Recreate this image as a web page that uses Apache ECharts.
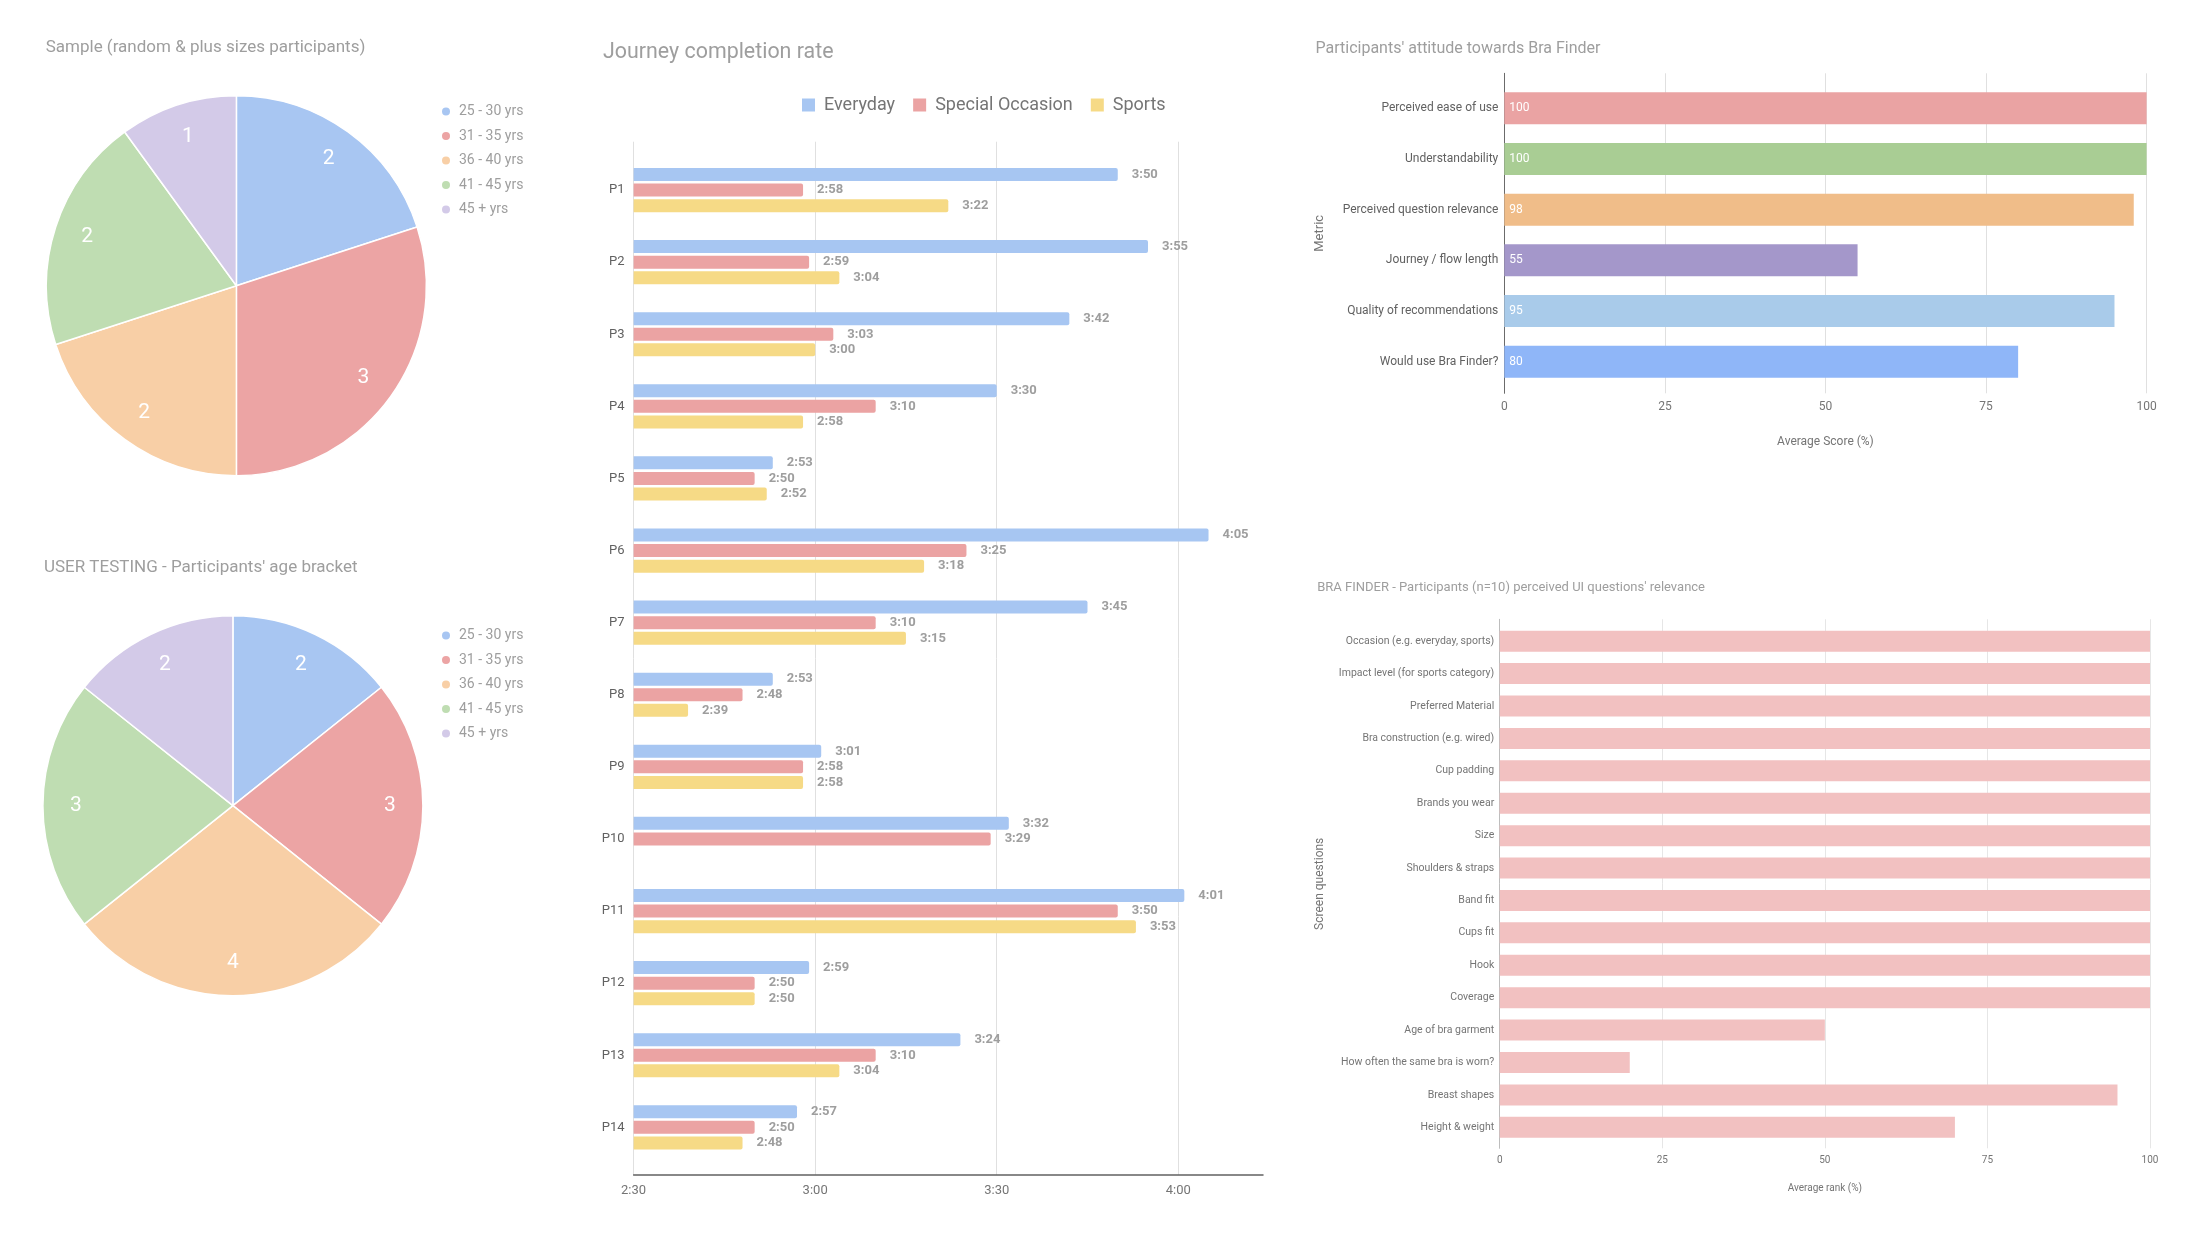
<!DOCTYPE html>
<html><head><meta charset="utf-8">
<script src="https://cdn.jsdelivr.net/npm/echarts@6/dist/echarts.min.js"></script>
<style>
html,body{margin:0;padding:0;background:#fff;}
#chart{width:2200px;height:1238px;}
</style></head><body>
<div id="chart"></div>
<script>
// ---------- DATA ----------
const ageBrackets = ['25 - 30 yrs', '31 - 35 yrs', '36 - 40 yrs', '41 - 45 yrs', '45 + yrs'];
const sampleCounts = [2, 3, 2, 2, 1];
const testingCounts = [2, 3, 4, 3, 2];

const participants = ['P1','P2','P3','P4','P5','P6','P7','P8','P9','P10','P11','P12','P13','P14'];
const journeySeries = ['Everyday', 'Special Occasion', 'Sports'];
const everydayTimes = ['3:50','3:55','3:42','3:30','2:53','4:05','3:45','2:53','3:01','3:32','4:01','2:59','3:24','2:57'];
const specialTimes  = ['2:58','2:59','3:03','3:10','2:50','3:25','3:10','2:48','2:58','3:29','3:50','2:50','3:10','2:50'];
const sportsTimes   = ['3:22','3:04','3:00','2:58','2:52','3:18','3:15','2:39','2:58',null,'3:53','2:50','3:04','2:48'];
const timeTicks = ['2:30', '3:00', '3:30', '4:00'];
const timeAxisMax = '4:14';

const attitudeMetrics = ['Perceived ease of use', 'Understandability', 'Perceived question relevance', 'Journey / flow length', 'Quality of recommendations', 'Would use Bra Finder?'];
const attitudeScores = [100, 100, 98, 55, 95, 80];

const screenQuestions = ['Occasion (e.g. everyday, sports)', 'Impact level (for sports category)', 'Preferred Material', 'Bra construction (e.g. wired)', 'Cup padding', 'Brands you wear', 'Size', 'Shoulders & straps', 'Band fit', 'Cups fit', 'Hook', 'Coverage', 'Age of bra garment', 'How often the same bra is worn?', 'Breast shapes', 'Height & weight'];
const questionRanks = [100, 100, 100, 100, 100, 100, 100, 100, 100, 100, 100, 100, 50, 20, 95, 70];
const percentTicks = [0, 25, 50, 75, 100];

// ---------- STYLE ----------
const FONT = 'Roboto, "Noto Sans", sans-serif';
const pieColors = ['#a8c6f2', '#eca4a4', '#f8cfa6', '#bfddb2', '#d3cae8'];
const journeyColors = ['#a7c6f2', '#eba3a3', '#f6da86'];
const attitudeColors = ['#eaa3a3', '#a9cd94', '#f0bd89', '#a497ca', '#a9cbea', '#8fb6f8'];
const rankColor = '#f2c1c1';

const toSec = t => t == null ? null : (+t.split(':')[0]) * 60 + (+t.split(':')[1]);

function pieSeries(counts, cx, cy, R) {
  return [
    {
      type: 'pie', center: [cx, cy], radius: [0, R], startAngle: 90, clockwise: true,
      data: counts.map((v, i) => ({name: ageBrackets[i], value: v, itemStyle: {color: pieColors[i]}})),
      label: {show: false}, labelLine: {show: false},
      itemStyle: {borderColor: '#fff', borderWidth: 1.5},
      emphasis: {disabled: true}, silent: true
    },
    {
      type: 'pie', center: [cx, cy], radius: [R * 0.62, R], startAngle: 90, clockwise: true,
      data: counts.map((v, i) => ({name: ageBrackets[i], value: v})),
      itemStyle: {color: 'rgba(0,0,0,0)'},
      label: {show: true, position: 'inside', color: '#fff', fontSize: 21, fontFamily: FONT, formatter: '{c}'},
      labelLine: {show: false}, emphasis: {disabled: true}, silent: true, legendHoverLink: false
    }
  ];
}
function pieLegend(top) {
  return {
    orient: 'vertical', left: 440, top: top, icon: 'circle', itemWidth: 10, itemHeight: 10, itemGap: 10.5,
    selectedMode: false, padding: 0,
    data: ageBrackets.map((n, i) => ({name: n, itemStyle: {color: pieColors[i]}})),
    textStyle: {color: '#9e9e9e', fontSize: 14, fontFamily: FONT, padding: [0, 0, 0, 3]}
  };
}
const titleStyle = (size) => ({color: '#9e9e9e', fontSize: size, fontWeight: 'normal', fontFamily: FONT});

const tMin = toSec(timeTicks[0]);
const tInt = toSec(timeTicks[1]) - toSec(timeTicks[0]);
const tMax = toSec(timeAxisMax);
const journeyTimes = [everydayTimes, specialTimes, sportsTimes];
const pInt = percentTicks[1] - percentTicks[0];
const pMin = percentTicks[0], pMax = percentTicks[percentTicks.length - 1];

const chart = echarts.init(document.getElementById('chart'));
chart.setOption({
  animation: false,
  title: [
    {text: 'Sample (random & plus sizes participants)', left: 45.7, top: 39.5, padding: 0, textStyle: titleStyle(17)},
    {text: "USER TESTING - Participants' age bracket", left: 43.9, top: 559.5, padding: 0, textStyle: titleStyle(17)},
    {text: 'Journey completion rate', left: 603, top: 42, padding: 0, textStyle: titleStyle(21.4)},
    {text: "Participants' attitude towards Bra Finder", left: 1315.5, top: 40.5, padding: 0, textStyle: titleStyle(16)},
    {text: "BRA FINDER - Participants (n=10) perceived UI questions' relevance", left: 1317.2, top: 581.5, padding: 0, textStyle: titleStyle(13)}
  ],
  legend: [
    pieLegend(104.5),
    pieLegend(628.5),
    {
      data: journeySeries, left: 802, top: 96, padding: 0, icon: 'rect', itemWidth: 13, itemHeight: 13, itemGap: 18,
      selectedMode: false,
      textStyle: {color: '#757575', fontSize: 18, fontFamily: FONT, padding: [0, 0, 0, 4]}
    }
  ],
  grid: [
    {left: 633.6, right: 937, top: 141.7, bottom: 63},
    {left: 633.6, right: 937, top: 154, bottom: 74.6},
    {left: 1504.3, right: 53.4, top: 73.3, bottom: 844.7},
    {left: 1504.3, right: 53.4, top: 83, bottom: 851},
    {left: 1499.7, right: 50, top: 619.3, bottom: 89.7},
    {left: 1499.7, right: 50, top: 625, bottom: 94.5}
  ],
  xAxis: [
    {type: 'value', gridIndex: 0, min: tMin, max: tMax, interval: tInt,
     axisLine: {show: true, onZero: false, lineStyle: {color: '#616161', width: 1.5}},
     axisTick: {show: false},
     axisLabel: {color: '#757575', fontSize: 13, fontFamily: FONT, margin: 9, showMaxLabel: false,
                 formatter: v => timeTicks[Math.round((v - tMin) / tInt)] || ''},
     splitLine: {show: true, showMaxLine: false, lineStyle: {color: '#e0e0e0', width: 1}}},
    {type: 'value', gridIndex: 1, min: tMin, max: tMax, show: false},
    {type: 'value', gridIndex: 2, min: pMin, max: pMax, interval: pInt,
     axisLine: {show: false}, axisTick: {show: false},
     axisLabel: {color: '#757575', fontSize: 12, fontFamily: FONT, margin: 8},
     splitLine: {show: true, showMinLine: false, lineStyle: {color: '#e0e0e0'}},
     name: 'Average Score (%)', nameLocation: 'middle', nameGap: 43,
     nameTextStyle: {color: '#757575', fontSize: 12, fontFamily: FONT}},
    {type: 'value', gridIndex: 3, min: pMin, max: pMax, show: false},
    {type: 'value', gridIndex: 4, min: pMin, max: pMax, interval: pInt,
     axisLine: {show: false}, axisTick: {show: false},
     axisLabel: {color: '#757575', fontSize: 10, fontFamily: FONT, margin: 7},
     splitLine: {show: true, showMinLine: false, lineStyle: {color: '#e6e6e6'}},
     name: 'Average rank (%)', nameLocation: 'middle', nameGap: 35,
     nameTextStyle: {color: '#757575', fontSize: 10, fontFamily: FONT}},
    {type: 'value', gridIndex: 5, min: pMin, max: pMax, show: false}
  ],
  yAxis: [
    {type: 'value', gridIndex: 0, show: false, min: 0, max: 1},
    {type: 'category', gridIndex: 1, data: participants, inverse: true,
     axisLine: {show: false}, axisTick: {show: false}, splitLine: {show: false},
     axisLabel: {color: '#616161', fontSize: 13, fontFamily: FONT, margin: 9}},
    {type: 'value', gridIndex: 2, min: 0, max: 1,
     axisLine: {show: true, lineStyle: {color: '#6b6b6b', width: 1}}, axisTick: {show: false},
     axisLabel: {show: false}, splitLine: {show: false},
     name: 'Metric', nameLocation: 'middle', nameGap: 178,
     nameTextStyle: {color: '#757575', fontSize: 13, fontFamily: FONT}},
    {type: 'category', gridIndex: 3, data: attitudeMetrics, inverse: true,
     axisLine: {show: false}, axisTick: {show: false}, splitLine: {show: false},
     axisLabel: {color: '#616161', fontSize: 12, fontFamily: FONT, margin: 6}},
    {type: 'value', gridIndex: 4, min: 0, max: 1,
     axisLine: {show: true, lineStyle: {color: '#bdbdbd', width: 1}}, axisTick: {show: false},
     axisLabel: {show: false}, splitLine: {show: false},
     name: 'Screen questions', nameLocation: 'middle', nameGap: 174,
     nameTextStyle: {color: '#757575', fontSize: 12, fontFamily: FONT}},
    {type: 'category', gridIndex: 5, data: screenQuestions, inverse: true,
     axisLine: {show: false}, axisTick: {show: false}, splitLine: {show: false},
     axisLabel: {color: '#757575', fontSize: 10.5, fontFamily: FONT, margin: 5.5}}
  ],
  series: [].concat(
    pieSeries(sampleCounts, 236.4, 285.7, 190),
    pieSeries(testingCounts, 232.9, 805.7, 190),
    journeySeries.map((name, k) => ({
      name: name, type: 'bar', xAxisIndex: 1, yAxisIndex: 1, barWidth: 13, barGap: '20%',
      itemStyle: {color: journeyColors[k], borderRadius: [0, 2, 2, 0]},
      data: journeyTimes[k].map(toSec),
      label: {show: true, position: 'right', distance: 14, color: '#9e9e9e', fontSize: 13, fontWeight: 'bold',
              fontFamily: FONT, formatter: p => journeyTimes[k][p.dataIndex]},
      emphasis: {disabled: true}, silent: true
    })),
    [
      {type: 'bar', xAxisIndex: 3, yAxisIndex: 3, barWidth: 32,
       data: attitudeScores.map((v, i) => ({value: v, itemStyle: {color: attitudeColors[i]}})),
       label: {show: true, position: 'insideLeft', distance: 5, color: '#fff', fontSize: 12, fontFamily: FONT},
       emphasis: {disabled: true}, silent: true},
      {type: 'bar', xAxisIndex: 5, yAxisIndex: 5, barWidth: 21,
       data: questionRanks, itemStyle: {color: rankColor},
       emphasis: {disabled: true}, silent: true}
    ]
  )
});
</script>
</body></html>
